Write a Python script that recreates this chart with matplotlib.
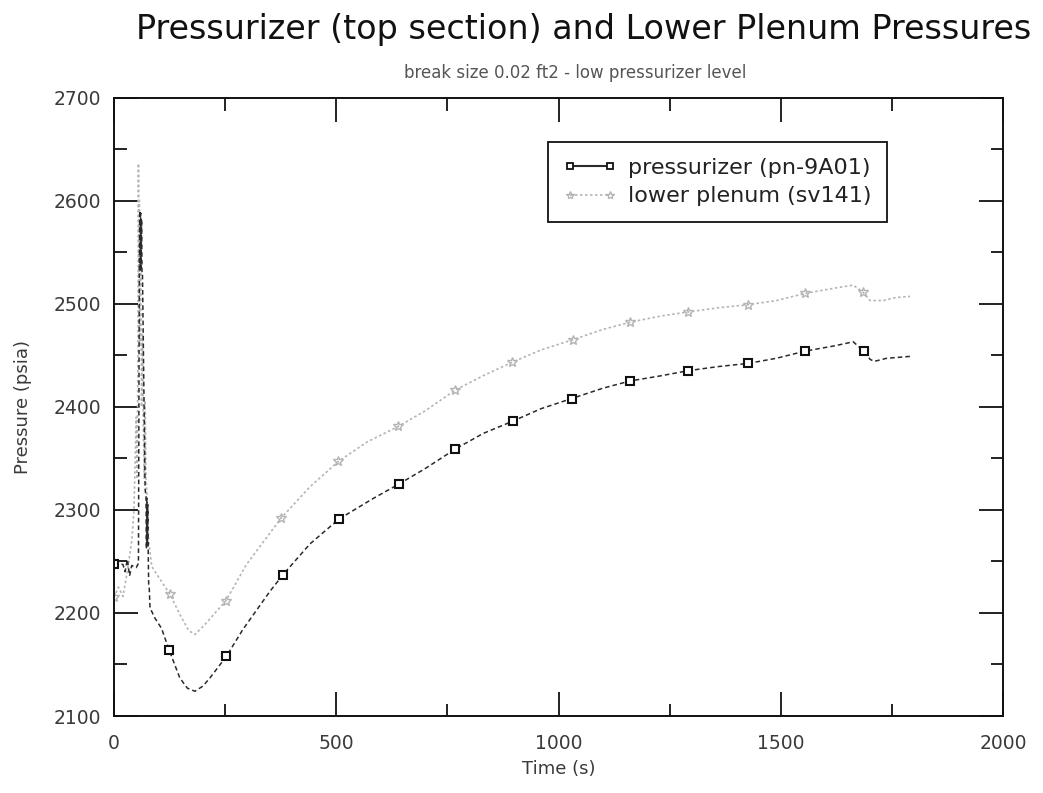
import matplotlib
matplotlib.use('Agg')
import matplotlib.pyplot as plt
from matplotlib.lines import Line2D
from matplotlib.ticker import MultipleLocator

plt.rcParams['font.family'] = ['DejaVu Sans']

title = "Pressurizer (top section) and Lower Plenum Pressures"
subtitle = "break size 0.02 ft2 - low pressurizer level"
xlabel = "Time (s)"
ylabel = "Pressure (psia)"
legend_labels = ["pressurizer (pn-9A01)", "lower plenum (sv141)"]

# Pressurizer (pn-9A01)
prz_t = [0, 10, 20, 25, 30, 35, 40, 50, 55, 57, 58, 59, 60, 61, 62, 63, 64, 70, 72, 73, 74, 75, 76, 77, 78, 79,
         81, 92, 107, 124, 148, 165, 182, 200, 216, 253, 290, 351, 380, 441, 506, 583, 641, 700, 768, 830,
         897, 960, 1030, 1100, 1161, 1230, 1292, 1360, 1426, 1490, 1555, 1620, 1663, 1687, 1701, 1710, 1738, 1795]
prz_p = [2248, 2248, 2247, 2240, 2252, 2236, 2246, 2244, 2248, 2540, 2590, 2532, 2588, 2535, 2582, 2530, 2530, 2320, 2313, 2262, 2311, 2265, 2305, 2258, 2228, 2227,
         2205, 2195, 2185, 2164, 2137, 2127, 2124, 2129, 2137, 2158, 2184, 2221, 2237, 2267, 2291, 2311, 2325, 2340, 2359, 2374,
         2386, 2398, 2408, 2418, 2425, 2430, 2435, 2439, 2442, 2447, 2454, 2459, 2463, 2454, 2446, 2444, 2447, 2449]
prz_mark_t = [0, 124, 253, 380, 506, 641, 768, 897, 1030, 1161, 1292, 1426, 1555, 1687]
prz_mark_p = [2247, 2164, 2158, 2237, 2291, 2325, 2359, 2386, 2408, 2425, 2435, 2442, 2454, 2454]

# Lower plenum (sv141)
lp_t = [0, 10, 20, 30, 40, 45, 50, 52, 54, 55, 56, 57, 58, 60, 62, 64, 66, 68, 70, 72, 74, 78, 85, 100,
        126, 150, 168, 182, 205, 252, 298, 376, 440, 505, 570, 640, 700, 767, 830, 895, 960, 1032, 1100,
        1161, 1230, 1292, 1360, 1426, 1490, 1555, 1620, 1663, 1686, 1701, 1730, 1760, 1791]
lp_p = [2215, 2225, 2216, 2240, 2270, 2300, 2390, 2330, 2460, 2636, 2520, 2600, 2460, 2560, 2400, 2470, 2380, 2330, 2406, 2330, 2317, 2270, 2245, 2235,
        2218, 2197, 2183, 2179, 2189, 2212, 2247, 2292, 2322, 2347, 2366, 2381, 2396, 2416, 2430, 2443, 2455, 2465, 2475,
        2482, 2488, 2492, 2496, 2499, 2503, 2510, 2515, 2518, 2511, 2503, 2503, 2506, 2507]
lp_mark_t = [0, 126, 252, 376, 505, 640, 767, 895, 1032, 1161, 1292, 1426, 1555, 1686]
lp_mark_p = [2215, 2218, 2212, 2292, 2347, 2381, 2416, 2443, 2465, 2482, 2492, 2499, 2510, 2511]

xticks = [0, 500, 1000, 1500, 2000]
yticks = [2100, 2200, 2300, 2400, 2500, 2600, 2700]

prz_color = '#2a2a2a'
lp_color = '#b4b4b4'
text_color = '#3a3a3a'

fig = plt.figure(figsize=(10.43, 7.93), dpi=100)
ax = fig.add_axes([114 / 1043, 1 - 716 / 793, 889 / 1043, (716 - 97.5) / 793])

ax.plot(lp_t, lp_p, color=lp_color, lw=1.2, ls=(0, (1.5, 1.5)))
ax.plot(lp_mark_t, lp_mark_p, ls='none', marker='*', ms=7, mfc='none', mec=lp_color, mew=1.0)
ax.plot(prz_t, prz_p, color=prz_color, lw=1.1, ls=(0, (3, 2)))
ax.plot(prz_mark_t, prz_mark_p, ls='none', marker='s', ms=5.5, mfc='white', mec='#111111', mew=1.5)

ax.set_xlim(0, 2000)
ax.set_ylim(2100, 2700)
ax.set_xticks(xticks)
ax.set_yticks(yticks)
ax.xaxis.set_minor_locator(MultipleLocator(250))
ax.yaxis.set_minor_locator(MultipleLocator(50))
ax.tick_params(which='both', direction='in', top=True, right=True, colors='#111111',
               labelcolor=text_color, labelsize=13.5)
ax.tick_params(which='major', length=17, width=1.3)
ax.tick_params(axis='x', which='major', pad=13)
ax.tick_params(axis='y', which='major', pad=9)
ax.tick_params(which='minor', length=9, width=1.3)
for s in ax.spines.values():
    s.set_linewidth(1.4)
    s.set_color('#111111')

ax.set_xlabel(xlabel, fontsize=13, color=text_color, labelpad=5)
ax.set_ylabel(ylabel, fontsize=13, color=text_color, labelpad=16)

fig.text(0.56, 1 - 30 / 793, title, ha='center', va='center', fontsize=24, color='#111111')
fig.text(0.551, 1 - 73 / 793, subtitle, ha='center', va='center', fontsize=12, color='#555555')

handles = [
    Line2D([], [], color=prz_color, lw=1.5, marker='s', ms=5, mfc='white', mec='#111111', mew=1.3),
    Line2D([], [], color=lp_color, lw=1.2, ls=(0, (1.5, 1.5)), marker='*', ms=6, mfc='none', mec=lp_color),
]
leg = ax.legend(handles, legend_labels, loc='upper right', bbox_to_anchor=(887 / 1043, 1 - 142 / 793),
                bbox_transform=fig.transFigure, borderaxespad=0, fancybox=False, framealpha=1,
                edgecolor='#111111', fontsize=16, numpoints=2, handlelength=2.4, handletextpad=0.5,
                labelspacing=0.4, borderpad=0.7)
leg.get_frame().set_linewidth(1.3)
for t in leg.get_texts():
    t.set_color('#222222')

fig.savefig('out.png', dpi=100)
